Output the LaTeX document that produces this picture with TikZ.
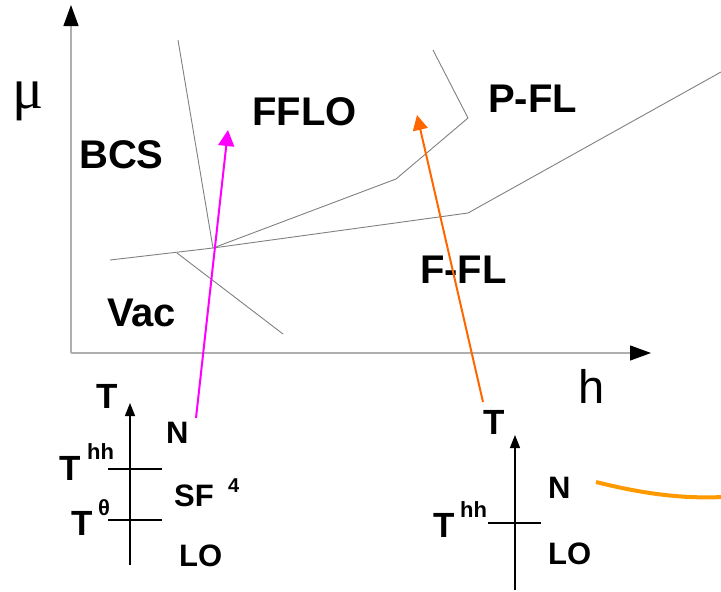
\documentclass[tikz,border=0pt]{standalone}
\usepackage{fontspec}
\setmainfont{Liberation Sans}
\newfontfamily\muserif{Liberation Serif}
\usetikzlibrary{arrows.meta}
\definecolor{linegray}{RGB}{128,128,128}
\definecolor{axisgray}{RGB}{175,175,175}
\definecolor{mag}{RGB}{255,0,255}
\definecolor{darkorange}{RGB}{255,102,0}
\definecolor{lightorange}{RGB}{255,153,0}
\begin{document}
\begin{tikzpicture}[x=1pt,y=-1pt,
  lbl/.style={inner sep=0pt, anchor=base west, font=\fontsize{40}{40}\selectfont\bfseries},
  small/.style={inner sep=0pt, anchor=base west, font=\fontsize{31}{31}\selectfont\bfseries},
  bigT/.style={inner sep=0pt, anchor=base west, font=\fontsize{35}{35}\selectfont\bfseries},
  supr/.style={inner sep=0pt, anchor=base west, font=\fontsize{22}{22}\selectfont\bfseries},
  phase/.style={draw=linegray, line width=0.9pt},
  axisline/.style={draw=axisgray, line width=1.3pt, -{Triangle[length=21pt,width=15pt,color=black,fill=black]}},
  taxis/.style={draw=black, line width=1.3pt, -{Triangle[length=13pt,width=10pt]}},
  tick/.style={draw=black, line width=1.3pt},
  path1/.style={draw=mag, line width=2pt, -{Triangle[length=16pt,width=16pt]}},
  path2/.style={draw=darkorange, line width=2pt, -{Triangle[length=15pt,width=15pt]}},
  wave/.style={draw=lightorange, line width=4pt}
]
\useasboundingbox (0,0) rectangle (721,592);

% main axes
\coordinate (O) at (71,353);
\coordinate (Ytop) at (71,5);
\coordinate (Xend) at (651,353);
\draw[axisline] (O) -- (Ytop);
\draw[axisline] (O) -- (Xend);
\node[inner sep=0pt, font=\fontsize{58}{58}\selectfont\muserif] (mu) at (28,101) {μ};
\node[inner sep=0pt, anchor=base west, font=\fontsize{47}{47}\selectfont] (h) at (578,403) {h};

% phase boundaries
\coordinate (J) at (213,248);
\draw[phase] (178,40) -- (J);
\draw[phase] (110,260) -- (J) -- (468,213) -- (721,72);
\draw[phase] (J) -- (396,179) -- (468,118) -- (433,50);
\draw[phase] (177,253) -- (283,334);

% phase labels
\node[lbl] (fflo) at (252,125) {FFLO};
\node[lbl] (bcs) at (79,168) {BCS};
\node[lbl] (vac) at (107,326) {Vac};
\node[lbl] (pfl) at (488,112) {P-FL};
\node[lbl] (ffl) at (420,283) {F-FL};

% left temperature axis
\coordinate (LTb) at (130,565);
\coordinate (LTt) at (130,403);
\draw[taxis] (LTb) -- (LTt);
\coordinate (L1a) at (108,469); \coordinate (L1b) at (162,469);
\coordinate (L2a) at (108,520); \coordinate (L2b) at (162,520);
\draw[tick] (L1a) -- (L1b);
\draw[tick] (L2a) -- (L2b);
\node[bigT] (lT) at (96,408) {T};
\node[bigT] (lThh) at (59,480) {T};
\node[supr] (lhh) at (87,459) {hh};
\node[bigT] (lTth) at (71,535) {T};
\node[supr] (lth) at (98,515) {θ};
\node[small] (lN) at (166,443) {N};
\node[small] (lSF) at (174,506) {SF};
\node[inner sep=0pt, anchor=base west, font=\fontsize{20}{20}\selectfont\bfseries] (l4) at (228,492) {4};
\node[small] (lLO) at (179,566) {LO};

% right temperature axis
\coordinate (RTb) at (515,590);
\coordinate (RTt) at (515,435);
\draw[taxis] (RTb) -- (RTt);
\coordinate (R1a) at (488,523); \coordinate (R1b) at (541,523);
\draw[tick] (R1a) -- (R1b);
\node[bigT] (rT) at (483,434) {T};
\node[bigT] (rThh) at (433,537) {T};
\node[supr] (rhh) at (460,517) {hh};
\node[small] (rN) at (548,498) {N};
\node[small] (rLO) at (548,564) {LO};

% trajectories
\coordinate (m0) at (196,418);
\coordinate (m1) at (228,130);
\draw[path1] (m0) -- (m1);
\coordinate (o0) at (483,402);
\coordinate (o1) at (417,115);
\draw[path2] (o0) -- (o1);

% orange curve
\coordinate (w0) at (596,482);
\coordinate (w1) at (723,497);
\draw[wave] (w0) .. controls (640,493) and (680,499) .. (w1);
\end{tikzpicture}
\end{document}
